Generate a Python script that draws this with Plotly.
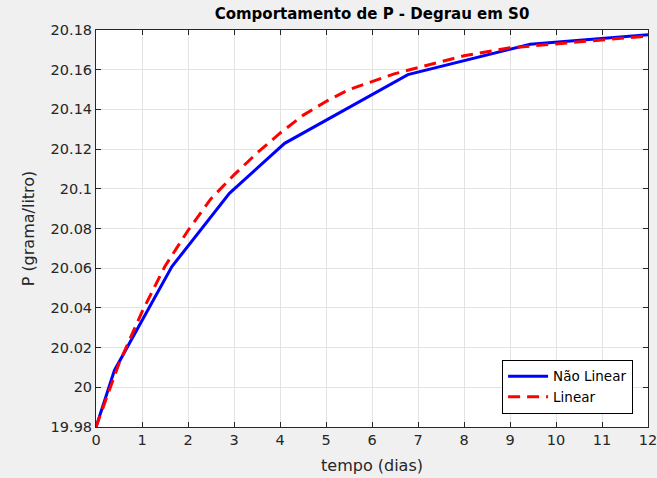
import plotly.graph_objects as go

# Não Linear (piecewise simulation output)
t_nl = [0, 0.4, 1.65, 2.9, 4.1, 6.78, 9.44, 12]
p_nl = [19.98, 20.0085, 20.0608, 20.0977, 20.1229, 20.1575, 20.1728, 20.1776]

# Linear
t_lin = [0, 0.5, 1, 1.5, 2, 2.5, 3, 3.5, 4, 4.5, 5, 5.5, 6, 6.5, 7, 7.5, 8, 8.5, 9, 9.5, 10, 10.5, 11, 11.5, 12]
p_lin = [19.980, 20.012, 20.038, 20.061, 20.079, 20.095, 20.107, 20.118, 20.128, 20.137,
         20.144, 20.150, 20.154, 20.158, 20.161, 20.164, 20.167, 20.169, 20.171, 20.172,
         20.173, 20.174, 20.175, 20.176, 20.177]

x_ticks = list(range(0, 13))
y_ticks = [19.98, 20.0, 20.02, 20.04, 20.06, 20.08, 20.1, 20.12, 20.14, 20.16, 20.18]
y_labels = ["19.98", "20", "20.02", "20.04", "20.06", "20.08", "20.1", "20.12", "20.14", "20.16", "20.18"]

FONT = "DejaVu Sans, Verdana, sans-serif"
AX = "#262626"

fig = go.Figure()
fig.add_trace(go.Scatter(x=t_nl, y=p_nl, mode="lines", name="Não Linear",
                         line=dict(color="#0000ff", width=3)))
fig.add_trace(go.Scatter(x=t_lin, y=p_lin, mode="lines", name="Linear",
                         line=dict(color="#ff0000", width=3, dash="12px,7px")))

axis_common = dict(showline=True, linecolor=AX, linewidth=1, mirror="ticks",
                   ticks="inside", ticklen=5, tickcolor=AX, automargin=False,
                   ticklabeloverflow="allow",
                   showgrid=True, gridcolor="#e3e3e3", gridwidth=1,
                   zeroline=False, tickfont=dict(family=FONT, size=14.5, color=AX))

fig.update_xaxes(range=[0, 12], tickvals=x_ticks, ticktext=[str(v) for v in x_ticks],
                 title=dict(text="tempo (dias)", font=dict(family=FONT, size=16, color=AX), standoff=12),
                 **axis_common)
fig.update_yaxes(range=[19.98, 20.18], tickvals=y_ticks, ticktext=y_labels,
                 title=dict(text="P (grama/litro)", font=dict(family=FONT, size=16, color=AX), standoff=11),
                 **axis_common)

fig.update_layout(
    width=657, height=478,
    margin=dict(l=96, r=9, t=30, b=51),
    paper_bgcolor="#f0f0f0", plot_bgcolor="#ffffff",
    title=dict(text="<b>Comportamento de P - Degrau em S0</b>", x=0.5, xref="paper",
               xanchor="center", y=1 - 14 / 478, yanchor="middle",
               font=dict(family=FONT, size=15, color="#000000")),
    legend=dict(x=0.973, y=0.033, xanchor="right", yanchor="bottom",
                bgcolor="#ffffff", bordercolor="#000000", borderwidth=1,
                font=dict(family=FONT, size=13.5, color="#000000"),
                tracegroupgap=0, itemwidth=40),
    showlegend=True,
)

fig.write_html("out.html")
